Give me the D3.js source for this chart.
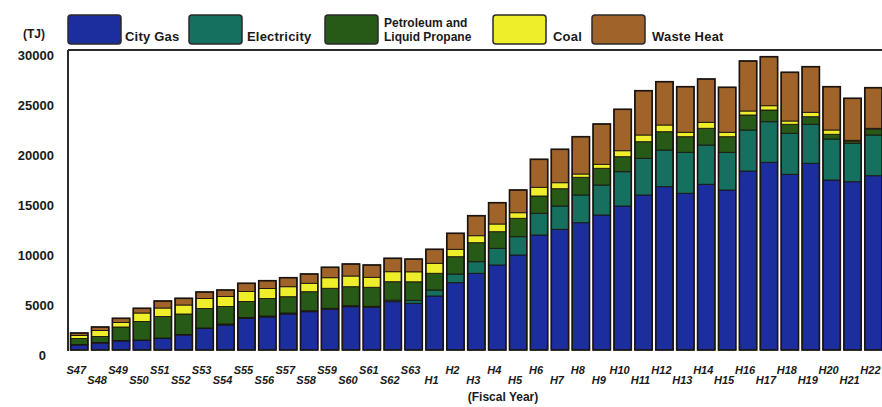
<!DOCTYPE html>
<html><head><meta charset="utf-8">
<script src="https://cdn.jsdelivr.net/npm/d3@7"></script>
<style>
html,body{margin:0;padding:0;background:#fff;}
svg{display:block;}
text{font-family:"Liberation Sans",Arial,sans-serif;font-weight:bold;fill:#1a1a1a;}
</style></head>
<body>
<svg id="chart" width="882" height="407"></svg>
<script>
const years = ["S47","S48","S49","S50","S51","S52","S53","S54","S55","S56","S57","S58","S59","S60","S61","S62","S63",
  "H1","H2","H3","H4","H5","H6","H7","H8","H9","H10","H11","H12","H13","H14","H15","H16","H17","H18","H19","H20","H21","H22"];
const cityGas    = [500,700,900,950,1150,1500,2150,2500,3150,3300,3600,3830,4070,4330,4270,4830,4670,5400,6730,7670,8500,9500,11500,12070,12730,13500,14400,15500,16330,15670,16570,16000,17900,18770,17570,18670,17000,16830,17430];
const electricity= [50,50,50,50,50,50,50,100,100,100,100,100,100,100,100,150,300,600,870,1160,1670,1830,2170,2330,2770,3000,3430,3670,3670,4100,3930,3770,4100,4060,4100,3900,4100,3840,4070];
const petroleum  = [600,600,1350,1850,2150,2050,1950,1750,1600,1750,1630,1900,2000,1900,1900,1850,1850,1670,1730,1900,1660,1840,1730,1730,1770,1670,1500,1660,1830,1560,1670,1560,1500,1170,900,760,470,200,570];
const coal       = [300,600,450,850,850,900,1000,1000,1000,1000,1000,840,1060,1070,1000,1000,1000,1000,740,700,770,560,870,600,330,400,600,670,670,440,600,440,400,430,330,440,430,100,100];
const wasteHeat  = [250,350,420,470,700,670,650,650,820,780,900,930,1040,1200,1230,1340,1270,1400,1600,2000,2130,2270,2800,3340,3730,4030,4140,4430,4330,4560,4330,4500,5000,4900,4870,4560,4330,4200,4060];
const seriesNames = ["City Gas","Electricity","Petroleum and|Liquid Propane","Coal","Waste Heat"];
const seriesColors = ["#1c2d9e","#15705f","#275a17","#eeee2a","#a0642a"];
const yTicks = [0,5000,10000,15000,20000,25000,30000];

const svg = d3.select("#chart");
const plotLeft = 68, plotTop = 50, plotBottom = 350;

const keys = ["gas","elec","petro","coal","waste"];
const rows = years.map((yr,i)=>({year:yr,gas:cityGas[i],elec:electricity[i],petro:petroleum[i],coal:coal[i],waste:wasteHeat[i]}));
const stack = d3.stack().keys(keys)(rows);

const x = d3.scaleBand().domain(years).range([68.8, 68.8+39*20.9]).paddingInner(0.17).paddingOuter(0.085);
const y = d3.scaleLinear().domain([0,30000]).range([plotBottom, plotTop]);

// frame
svg.append("line").attr("x1",plotLeft).attr("x2",882).attr("y1",plotTop).attr("y2",plotTop).attr("stroke","#2a2a2a").attr("stroke-width",2);
svg.append("line").attr("x1",plotLeft).attr("x2",plotLeft).attr("y1",plotTop).attr("y2",plotBottom+1).attr("stroke","#2a2a2a").attr("stroke-width",2);

// bars
const g = svg.append("g");
stack.forEach((s,si)=>{
  g.selectAll(null).data(s).join("rect")
    .attr("x",d=>x(d.data.year))
    .attr("width",x.bandwidth())
    .attr("y",d=>y(d[1]))
    .attr("height",d=>Math.max(0,y(d[0])-y(d[1])))
    .attr("fill",seriesColors[si])
    .attr("stroke","#1b1410").attr("stroke-width",0.9);
});
// outer outline of bars
g.selectAll(null).data(stack[stack.length-1]).join("rect")
  .attr("x",d=>x(d.data.year)).attr("width",x.bandwidth())
  .attr("y",d=>y(d[1])).attr("height",d=>y(0)-y(d[1]))
  .attr("fill","none").attr("stroke","#1b1410").attr("stroke-width",1.6);

// y axis labels
const yAxis = d3.axisLeft(y).tickValues(yTicks).tickSize(0).tickPadding(0).tickFormat(d3.format("d"));
const ya = svg.append("g").attr("transform","translate(54,5)").call(yAxis);
ya.select(".domain").remove();
ya.selectAll("text").attr("font-size",13).attr("fill","#1a1a1a").style("font-family","Liberation Sans, Arial, sans-serif").style("font-weight","bold")
  .attr("dx",d=>d===0?-8:0);
svg.append("text").attr("x",34).attr("y",38).attr("text-anchor","middle").attr("font-size",12).text("(TJ)");

// x axis labels
const xAxis = d3.axisBottom(x).tickSize(0).tickPadding(0);
const xa = svg.append("g").attr("transform",`translate(-3,${plotBottom})`).call(xAxis);
xa.select(".domain").remove();
xa.selectAll("text").attr("font-size",11).style("font-style","italic").style("font-family","Liberation Sans, Arial, sans-serif").style("font-weight","bold").attr("fill","#1a1a1a")
  .attr("dy",null).attr("y",(d,i)=> i%2===0 ? 24 : 34);
svg.append("text").attr("x",503).attr("y",401).attr("text-anchor","middle").attr("font-size",12).text("(Fiscal Year)");

// legend
const legPos = [{bx:68,tx:125},{bx:189,tx:247},{bx:325,tx:384},{bx:493,tx:553},{bx:592,tx:652}];
seriesNames.forEach((n,i)=>{
  svg.append("rect").attr("x",legPos[i].bx).attr("y",15).attr("width",53).attr("height",29).attr("rx",3)
    .attr("fill",seriesColors[i]).attr("stroke","#2a2a2a").attr("stroke-width",1.5);
  const parts = n.split("|");
  if(parts.length===1){
    svg.append("text").attr("x",legPos[i].tx).attr("y",41).attr("font-size",13).attr("letter-spacing",0.2).text(parts[0]);
  } else {
    svg.append("text").attr("x",legPos[i].tx).attr("y",27).attr("font-size",12).text(parts[0]);
    svg.append("text").attr("x",legPos[i].tx).attr("y",41).attr("font-size",12).text(parts[1]);
  }
});
</script>
</body></html>
